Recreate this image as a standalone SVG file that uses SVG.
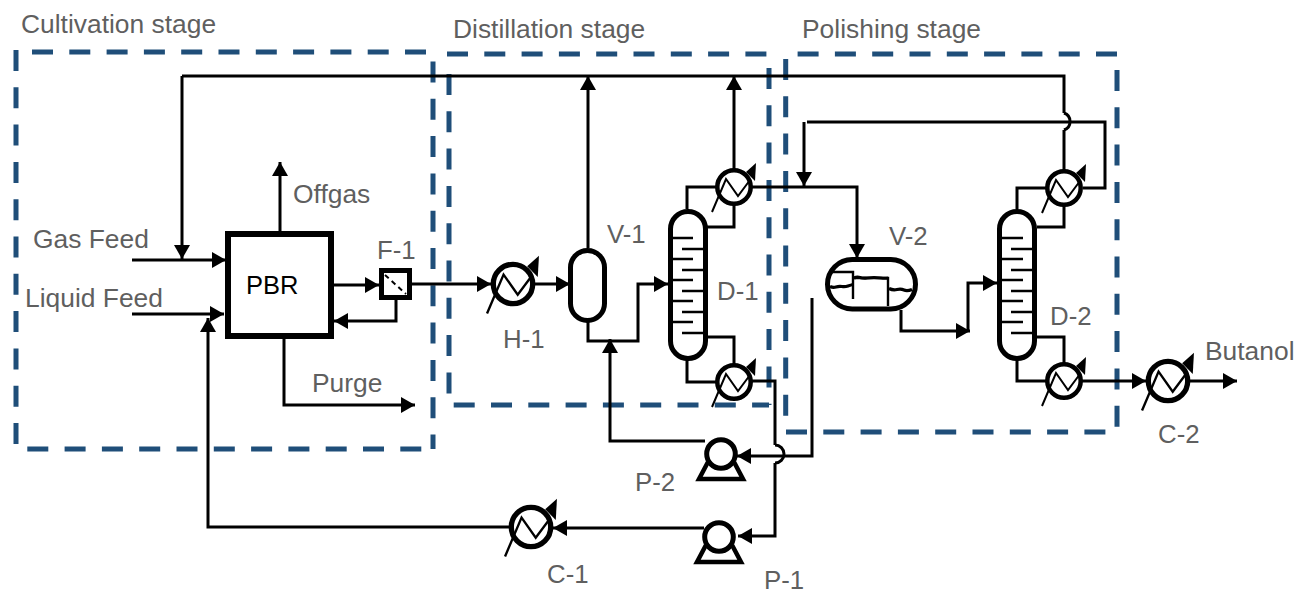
<svg xmlns="http://www.w3.org/2000/svg" width="1311" height="591" viewBox="0 0 1311 591">
<style>
text{font-family:"Liberation Sans",Arial,sans-serif;font-size:26.400px;fill:#5f5f5f}
.e{font-size:25.800px}
.stage{fill:none;stroke:#1f4e79;stroke-width:5;stroke-dasharray:21 16.300}
.c{fill:none;stroke:#000;stroke-width:3}
.t{fill:none;stroke:#000;stroke-width:2.400}
.v{fill:#fff;stroke:#000;stroke-width:5}
.l{fill:none;stroke:#000;stroke-width:2}
.w{fill:none;stroke:#000;stroke-width:3.200}
</style>
<defs>
<marker id="a" markerUnits="userSpaceOnUse" markerWidth="16" markerHeight="16" refX="14" refY="8" orient="auto"><path d="M0 0L14 8L0 16Z"/></marker>
<symbol id="hx" overflow="visible" viewBox="-30 -30 60 60" width="60" height="60">
<circle r="16.700" fill="#fff" stroke="#000" stroke-width="4.500"/>
<path class="l" d="M-22 25L-8 -8L4 9L16 -7"/>
<path d="M22 -24L12 -15L21 -6Z"/>
</symbol>
<symbol id="pump" overflow="visible" viewBox="-30 -30 60 60" width="60" height="60">
<path d="M-13 8L-22 25H22L13 8" fill="#fff" stroke="#000" stroke-width="4.500"/>
<circle r="14.300" fill="#fff" stroke="#000" stroke-width="5"/>
</symbol>
</defs>
<g id="stages">
<path class="stage" d="M32 52H434"/>
<path class="stage" d="M16 50V449H434"/>
<path class="stage" d="M433 61.500V449"/>
<path class="stage" d="M449 74V405H769"/>
<path class="stage" d="M447 54H769"/>
<path class="stage" d="M769 68V405"/>
<path class="stage" d="M785.700 59V416"/>
<path class="stage" d="M786 432H1117"/>
<path class="stage" d="M797.600 54H1118"/>
<path class="stage" d="M1117 70V432"/>
</g>
<g id="connectors">
<path class="c" d="M182 76H1064V113"/>
<path class="c" marker-end="url(#a)" d="M182 76V259"/>
<path class="c" d="M1064 130V171"/>
<path class="c" d="M1064 113A9 9 0 0 1 1064 130"/>
<path class="c" marker-end="url(#a)" d="M132 260H226"/>
<path class="c" marker-end="url(#a)" d="M132 314H224"/>
<path class="c" marker-end="url(#a)" d="M510 527H208V318"/>
<path class="c" marker-end="url(#a)" d="M280 232V162"/>
<path class="c" marker-end="url(#a)" d="M284 338V405H415"/>
<path class="c" marker-end="url(#a)" d="M333 285H379"/>
<path class="c" marker-end="url(#a)" d="M412 284H491"/>
<path class="c" marker-end="url(#a)" d="M535 284H570"/>
<path class="c" marker-end="url(#a)" d="M396 300V321H334"/>
<path class="c" marker-end="url(#a)" d="M588 248V76"/>
<path class="c" marker-end="url(#a)" d="M588 320V341H638V284H668"/>
<path class="c" marker-end="url(#a)" d="M705 441H610V339"/>
<path class="c" marker-end="url(#a)" d="M734 170V76"/>
<path class="c" d="M717 187H687V209M734 204V227H707"/>
<path class="c" marker-end="url(#a)" d="M752 187H857V258"/>
<path class="c" marker-end="url(#a)" d="M804 122V186"/>
<path class="c" d="M807 122H1105V188H1083"/>
<path class="c" d="M1046 188H1017V209M1064 206V227H1037"/>
<path class="c" d="M734 364V337H707M716 382H687V360"/>
<path class="c" d="M752 381H775V445"/>
<path class="c" d="M775 445A9 9 0 0 1 775 463"/>
<path class="c" marker-end="url(#a)" d="M775 463V536H738"/>
<path class="c" marker-end="url(#a)" d="M812 298V456H737"/>
<path class="c" marker-end="url(#a)" d="M901 310V331H970"/>
<path class="c" marker-end="url(#a)" d="M968 331V283H997"/>
<path class="c" d="M1064 363V337H1037M1046 381H1017V359"/>
<path class="c" marker-end="url(#a)" d="M1082 381H1146"/>
<path class="c" marker-end="url(#a)" d="M1190 381H1237"/>
<path class="c" marker-end="url(#a)" d="M704 528H553"/>
</g>
<g id="PBR"><rect class="v" x="228" y="234" width="103" height="102" style="stroke-width:6"/><text x="246" y="294" style="fill:#000;font-size:25.500px">PBR</text></g>
<g id="F-1"><rect class="v" x="381.500" y="270.500" width="28" height="27"/><path d="M385 275L406 294" fill="none" stroke="#000" stroke-width="2" stroke-dasharray="5 4"/><text class="e" x="377" y="259">F-1</text></g>
<g id="H-1"><use href="#hx" x="483" y="254" transform="translate(513 284) scale(1.180) translate(-513 -284)"/><text class="e" x="503" y="348">H-1</text></g>
<g id="V-1"><rect class="v" x="570.500" y="250.500" width="34" height="70" rx="17"/><text class="e" x="607" y="243">V-1</text></g>
<g id="D-1"><rect class="v" x="670.500" y="211.500" width="35" height="147" rx="17.500"/><path class="t" d="M670 238H693M682 249H706M670 259H693M682 270H706M670 280H693M682 291H706M670 301H693M682 312H706M670 322H693M682 333H706"/><text class="e" x="717" y="300">D-1</text></g>
<g id="E-1"><use href="#hx" x="704" y="157"/></g>
<g id="E-2"><use href="#hx" x="704" y="352"/></g>
<g id="V-2"><rect class="v" x="827.500" y="259.500" width="88" height="49.500" rx="24.700"/><path class="t" d="M831 272H853V299M854 278H888V306"/><path class="w" d="M830 286.500q3 1.500 6 .500t6 -.500t6 -.500t5 -1.500M854 278q3 -1.500 6 -.500t7 .500t7 -.500t7 .500t7 0M889 288.500q4 2 8 1t7 .500t8 -.500"/><text class="e" x="889" y="245">V-2</text></g>
<g id="D-2"><rect class="v" x="999.500" y="211.500" width="35" height="147" rx="17.500"/><path class="t" d="M999 238H1023M1011 249H1035M999 259H1023M1011 270H1035M999 280H1023M1011 291H1035M999 301H1023M1011 312H1035M999 322H1023M1011 333H1035"/><text class="e" x="1050" y="325">D-2</text></g>
<g id="E-3"><use href="#hx" x="1034" y="158"/></g>
<g id="E-4"><use href="#hx" x="1034" y="351"/></g>
<g id="C-2"><use href="#hx" x="1138" y="351" transform="translate(1168 381) scale(1.180) translate(-1168 -381)"/><text class="e" x="1158" y="443">C-2</text></g>
<g id="C-1"><use href="#hx" x="501" y="497" transform="translate(531 527) scale(1.180) translate(-531 -527)"/><text class="e" x="547" y="583">C-1</text></g>
<g id="P-2"><use href="#pump" x="691" y="424"/><text class="e" x="635" y="491">P-2</text></g>
<g id="P-1"><use href="#pump" x="689" y="507"/><text class="e" x="764" y="589">P-1</text></g>
<g id="labels">
<text x="21" y="33">Cultivation stage</text>
<text x="453" y="38">Distillation stage</text>
<text x="802" y="38">Polishing stage</text>
<text x="293" y="203">Offgas</text>
<text x="33" y="248">Gas Feed</text>
<text x="25" y="307">Liquid Feed</text>
<text x="312" y="392">Purge</text>
<text x="1205" y="360">Butanol</text>
</g>
</svg>
